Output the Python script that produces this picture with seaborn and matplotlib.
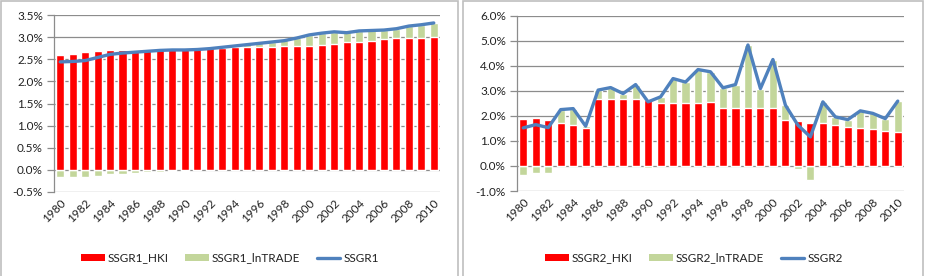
import numpy as np
import pandas as pd
import matplotlib
matplotlib.use("Agg")
import matplotlib.pyplot as plt
import seaborn as sns
from matplotlib.patches import Patch, Rectangle
from matplotlib.lines import Line2D
from matplotlib.ticker import FuncFormatter, MultipleLocator

years = list(range(1980, 2011))

ssgr1_hki = [2.60, 2.62, 2.66, 2.68, 2.70, 2.72, 2.72, 2.74, 2.74, 2.74, 2.73,
             2.74, 2.75, 2.76, 2.77, 2.77, 2.77, 2.78, 2.79, 2.80, 2.81,
             2.83, 2.85, 2.88, 2.90, 2.92, 2.95, 2.97, 2.99, 2.99, 3.01]
ssgr1_lntrade = [-0.16, -0.17, -0.16, -0.14, -0.10, -0.09, -0.07, -0.05, -0.04, -0.03, -0.02,
                 0.00, 0.01, 0.03, 0.05, 0.07, 0.10, 0.12, 0.14, 0.19, 0.24,
                 0.26, 0.27, 0.23, 0.24, 0.23, 0.21, 0.22, 0.26, 0.29, 0.31]
ssgr1 = [2.44, 2.45, 2.47, 2.54, 2.61, 2.64, 2.66, 2.68, 2.70, 2.71, 2.71,
         2.72, 2.74, 2.77, 2.80, 2.83, 2.86, 2.89, 2.92, 2.98, 3.05,
         3.09, 3.12, 3.10, 3.14, 3.15, 3.16, 3.19, 3.25, 3.28, 3.32]

ssgr2_hki = [1.89, 1.93, 1.83, 1.71, 1.63, 1.52, 2.67, 2.67, 2.67, 2.67, 2.64,
             2.52, 2.52, 2.52, 2.52, 2.56, 2.32, 2.32, 2.32, 2.32, 2.32,
             1.83, 1.79, 1.71, 1.72, 1.63, 1.56, 1.52, 1.49, 1.39, 1.36]
ssgr2_lntrade = [-0.38, -0.28, -0.30, 0.54, 0.66, 0.07, 0.36, 0.46, 0.22, 0.58, -0.08,
                 0.24, 0.97, 0.83, 1.33, 1.20, 0.80, 0.93, 2.51, 0.77, 1.93,
                 0.60, -0.13, -0.58, 0.84, 0.33, 0.29, 0.68, 0.61, 0.50, 1.23]
ssgr2 = [1.52, 1.65, 1.53, 2.25, 2.29, 1.59, 3.03, 3.13, 2.89, 3.25, 2.56,
         2.76, 3.49, 3.35, 3.85, 3.76, 3.12, 3.25, 4.83, 3.09, 4.25,
         2.43, 1.63, 1.16, 2.56, 1.96, 1.85, 2.20, 2.10, 1.89, 2.59]

RED = "#FF0000"
GREEN = "#C3D69B"
BLUE = "#4F81BD"
GRID = "#8C8C8C"
FONT = ["Lato", "DejaVu Sans"]
FS = 8.5

sns.set_theme(style="white")
plt.rcParams["font.family"] = FONT

W, H = 931, 276
fig = plt.figure(figsize=(W / 100, H / 100), dpi=100)


def px_axes(x0, y0, x1, y1):
    return fig.add_axes([x0 / W, 1 - y1 / H, (x1 - x0) / W, (y1 - y0) / H])


def draw_panel(ax, hki, ln, total, ymin, ymax, step, names):
    df = pd.DataFrame({"year": [str(y) for y in years], "hki": hki, "ln": ln, "total": total})
    df["pos_top"] = df["hki"] + df["ln"].clip(lower=0)
    df["neg"] = df["ln"].clip(upper=0)
    for y in np.arange(ymin, ymax + step / 2, step):
        ax.axhline(y, color=GRID, lw=0.9, zorder=0)
    sns.barplot(data=df, x="year", y="pos_top", color=GREEN, width=0.65,
                saturation=1, ax=ax, zorder=2)
    sns.barplot(data=df, x="year", y="hki", color=RED, width=0.65,
                saturation=1, ax=ax, zorder=3)
    sns.barplot(data=df, x="year", y="neg", color=GREEN, width=0.65,
                saturation=1, ax=ax, zorder=2)
    ax.plot(np.arange(len(years)), df["total"], color=BLUE, lw=2.4,
            solid_capstyle="round", solid_joinstyle="round", zorder=4)
    ax.set_ylim(ymin, ymax)
    ax.set_xlim(-0.5, len(years) - 0.5)
    ax.yaxis.set_major_locator(MultipleLocator(step))
    ax.yaxis.set_major_formatter(FuncFormatter(lambda v, p: f"{v:.1f}%"))
    ax.set_xlabel("")
    ax.set_ylabel("")
    ax.set_xticks(np.arange(0, len(years), 2))
    ax.set_xticklabels([str(y) for y in years[::2]], rotation=45, ha="right",
                       rotation_mode="anchor")
    ax.tick_params(axis="y", left=True, length=5, width=0.9, color=GRID,
                   pad=3, labelsize=FS, labelcolor="#222222")
    ax.tick_params(axis="x", bottom=False, length=0, pad=4, labelsize=FS,
                   labelcolor="#222222")
    for s in ["top", "right", "bottom"]:
        ax.spines[s].set_visible(False)
    ax.spines["left"].set_color(GRID)
    ax.spines["left"].set_linewidth(0.9)
    ax.grid(False)
    handles = [Patch(facecolor=RED, edgecolor="none", label=names[0]),
               Patch(facecolor=GREEN, edgecolor="none", label=names[1]),
               Line2D([0], [0], color=BLUE, lw=2.4, label=names[2])]
    return handles


ax1 = px_axes(54, 15, 440, 192)
h1 = draw_panel(ax1, ssgr1_hki, ssgr1_lntrade, ssgr1, -0.5, 3.5, 0.5,
                ["SSGR1_HKI", "SSGR1_lnTRADE", "SSGR1"])
ax2 = px_axes(517, 15.7, 904, 191)
h2 = draw_panel(ax2, ssgr2_hki, ssgr2_lntrade, ssgr2, -1.0, 6.0, 1.0,
                ["SSGR2_HKI", "SSGR2_lnTRADE", "SSGR2"])

leg_kw = dict(loc="center", ncol=3, frameon=False, fontsize=FS, handlelength=2.0,
              handleheight=0.6, handletextpad=0.25, columnspacing=1.4,
              labelcolor="#222222")
fig.legend(handles=h1, bbox_to_anchor=(230 / W, 1 - 258 / H), **leg_kw)
fig.legend(handles=h2, bbox_to_anchor=(694 / W, 1 - 258 / H), **leg_kw)

for (x0, y0, x1, y1) in [(0.5, 1, 457.5, 280), (463, 1, 922.5, 280)]:
    fig.patches.append(Rectangle((x0 / W, 1 - y1 / H), (x1 - x0) / W, (y1 - y0) / H,
                                 transform=fig.transFigure, fill=False,
                                 edgecolor="#BFBFBF", lw=1.2))

fig.savefig("out.png", dpi=100)
